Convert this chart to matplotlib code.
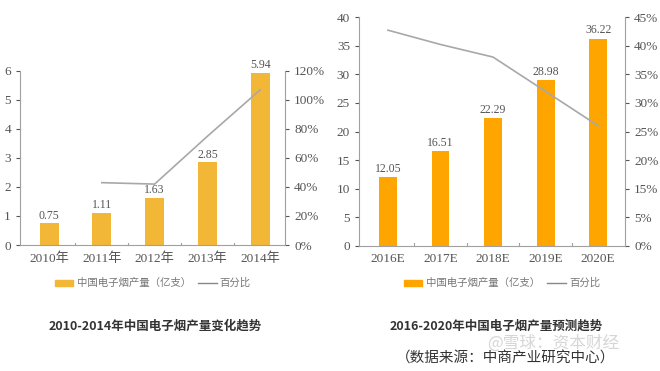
import matplotlib
matplotlib.use("Agg")
import matplotlib.pyplot as plt
import numpy as np

plt.rcParams['font.family'] = ['Liberation Serif', 'Noto Sans CJK SC', 'DejaVu Sans']

# ---- data ----
years_a = ["2010年", "2011年", "2012年", "2013年", "2014年"]
output_a = [0.75, 1.11, 1.63, 2.85, 5.94]
pct_a = [None, 43, 42, 75, 107]
pct_ticks_a = [0, 20, 40, 60, 80, 100, 120]

years_b = ["2016E", "2017E", "2018E", "2019E", "2020E"]
output_b = [12.05, 16.51, 22.29, 28.98, 36.22]
pct_b = [42.7, 40.2, 38.0, 32.0, 26.0]
# right-axis labels as printed in the source (10% is absent)
pct_labels_b = [0, 5, 15, 20, 25, 30, 35, 40, 45]

title_a = "2010-2014年中国电子烟产量变化趋势"
title_b = "2016-2020年中国电子烟产量预测趋势"
source = "（数据来源：中商产业研究中心）"
legend_bar = "中国电子烟产量（亿支）"
legend_line = "百分比"

color_a = "#F2B736"
color_b = "#FFA500"
grey = "#A0A0A0"
txt = "#555555"
cjk = ['Noto Sans CJK SC', 'DejaVu Sans']

fig = plt.figure(figsize=(6.6, 3.71), dpi=100)


def style(ax, ax2):
    for a in (ax, ax2):
        a.spines["top"].set_visible(False)
        a.tick_params(colors=txt, labelsize=9.5, length=3, width=0.8)
    ax.spines["right"].set_visible(False)
    ax2.spines["left"].set_visible(False)
    ax2.spines["bottom"].set_visible(False)
    for s in ("left", "bottom"):
        ax.spines[s].set_color(grey)
    ax2.spines["right"].set_color(grey)
    ax.tick_params(axis="y", colors=txt, direction="out")
    ax.tick_params(axis="x", length=0, pad=5)


# ---- left chart ----
ax = fig.add_axes([20 / 660, 1 - 245 / 371, 265 / 660, 174 / 371])
x = np.arange(len(years_a))
ax.bar(x, output_a, width=0.36, color=color_a, zorder=2)
for xi, v in zip(x, output_a):
    ax.text(xi, v + 0.06, f"{v:.2f}", ha="center", va="bottom", fontsize=8.5, color=txt)
ax.set_xlim(-0.55, 4.47)
ax.set_ylim(0, 6)
ax.set_yticks(range(0, 7))
ax.set_xticks(x)
ax.set_xticklabels(years_a)
for b in np.arange(0.5, 4, 1):
    ax.plot([b, b], [0, 0.08], color=grey, lw=0.8, clip_on=False)
ax2 = ax.twinx()
ax2.set_ylim(0, 120)
ax2.set_yticks(pct_ticks_a)
ax2.set_yticklabels([f"{t}%" for t in pct_ticks_a])
xa = [i for i, p in enumerate(pct_a) if p is not None]
ya = [p for p in pct_a if p is not None]
ax2.plot(xa, ya, color="#A8A8A8", lw=1.2)
style(ax, ax2)

# ---- right chart ----
bx = fig.add_axes([359 / 660, 1 - 246 / 371, 266 / 660, 229 / 371])
x = np.arange(len(years_b))
bx.bar(x, output_b, width=0.34, color=color_b, zorder=2)
for xi, v in zip(x, output_b):
    bx.text(xi, v + 0.4, f"{v:.2f}", ha="center", va="bottom", fontsize=8.5, color=txt)
bx.set_xlim(-0.55, 4.51)
bx.set_ylim(0, 40)
bx.set_yticks(range(0, 41, 5))
bx.set_xticks(x)
bx.set_xticklabels(years_b)
for b in np.arange(0.5, 4, 1):
    bx.plot([b, b], [0, 0.5], color=grey, lw=0.8, clip_on=False)
bx2 = bx.twinx()
npos = len(pct_labels_b) - 1
bx2.set_ylim(0, npos)
bx2.set_yticks(range(len(pct_labels_b)))
bx2.set_yticklabels([f"{t}%" for t in pct_labels_b])
pos_b = np.interp(pct_b, pct_labels_b, range(len(pct_labels_b)))
bx2.plot(x, pos_b, color="#A8A8A8", lw=1.2)
style(bx, bx2)


# ---- legends ----
def legend(x0, y, color, texts_x, line_x, pct_x):
    fig.patches.append(plt.Rectangle((x0 / 660, 1 - (y + 3) / 371), 18 / 660, 6 / 371,
                                     transform=fig.transFigure, color=color))
    fig.text(texts_x / 660, 1 - y / 371, legend_bar, fontsize=7.5, color="#777777",
             va="center", family=cjk)
    fig.add_artist(plt.Line2D([line_x / 660, (line_x + 19) / 660], [1 - y / 371, 1 - y / 371],
                              color="#888888", lw=1, transform=fig.transFigure))
    fig.text(pct_x / 660, 1 - y / 371, legend_line, fontsize=7.5, color="#777777",
             va="center", family=cjk)


legend(55, 283, color_a, 77, 198, 219)
legend(404, 283, color_b, 426, 547, 569)

fig.text(155 / 660, 1 - 326 / 371, title_a, fontsize=9, weight="bold", color="#333333",
         ha="center", va="center", family=cjk)
fig.text(496 / 660, 1 - 326 / 371, title_b, fontsize=9, weight="bold", color="#333333",
         ha="center", va="center", family=cjk)
fig.text(506 / 660, 1 - 359 / 371, source, fontsize=10.5, color="#333333",
         ha="center", va="center", family=cjk)
fig.text(553 / 660, 1 - 343 / 371, "@雪球：资本财经", fontsize=12, color="#BBBBBB",
         alpha=0.6, ha="center", va="center", family=cjk)

fig.savefig("out.png", dpi=100)
